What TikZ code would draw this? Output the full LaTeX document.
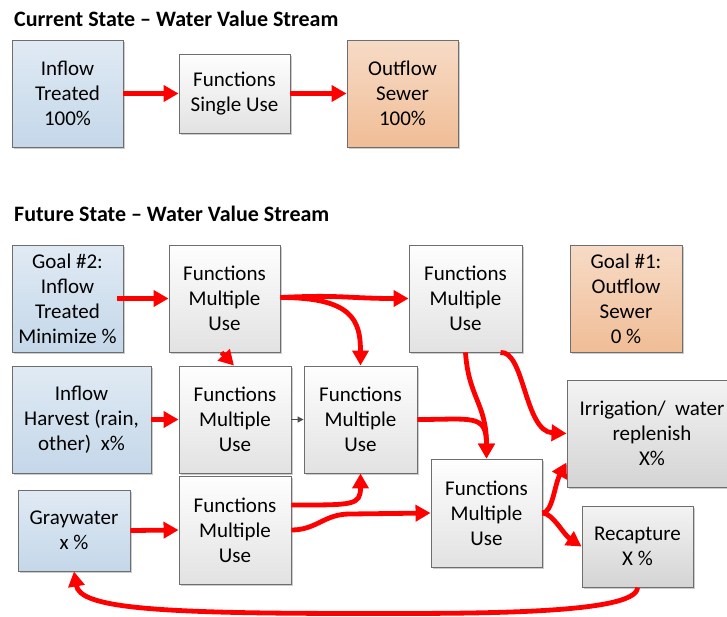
\documentclass[tikz,border=0pt]{standalone}
\usepackage{fontspec}
\setmainfont{Carlito}
\usetikzlibrary{arrows.meta,shadows,calc}
\definecolor{blueT}{RGB}{224,234,244}
\definecolor{blueB}{RGB}{196,215,233}
\definecolor{oraT}{RGB}{247,219,198}
\definecolor{oraB}{RGB}{240,189,150}
\definecolor{grT}{RGB}{254,254,254}
\definecolor{grB}{RGB}{226,226,226}
\definecolor{dgT}{RGB}{243,243,243}
\definecolor{dgB}{RGB}{212,212,212}
\definecolor{edgec}{RGB}{110,110,110}
\definecolor{myred}{RGB}{255,0,0}
\tikzset{
  box/.style={draw=edgec, line width=0.9pt, align=center, inner sep=0pt,
    font=\fontsize{21}{25}\selectfont,
    drop shadow={shadow xshift=2pt, shadow yshift=-2pt, fill=black!20, opacity=1}},
  bluebox/.style={box, top color=blueT, bottom color=blueB},
  orabox/.style={box, top color=oraT, bottom color=oraB},
  funcbox/.style={box, top color=grT, bottom color=grB},
  outbox/.style={box, top color=dgT, bottom color=dgB},
  flow/.style={draw=myred, line width=4.8pt, -{Triangle[length=15pt,width=16pt]}},
  thinflow/.style={draw=black!70, line width=1pt, -{Triangle[length=6pt,width=6pt]}},
  title/.style={anchor=west, inner sep=0pt, font=\fontsize{22}{26}\selectfont\bfseries}
}
\begin{document}
\begin{tikzpicture}[x=1pt,y=-1pt]
\useasboundingbox[fill=white] (0,0) rectangle (727,616);

% ---------- current state ----------
\node[title] (t1) at (14,19) {Current State – Water Value Stream};
\node[bluebox, minimum width=111pt, minimum height=107pt] (cin) at (67.5,93.5) {Inflow\\Treated\\100\%};
\node[funcbox, minimum width=111pt, minimum height=79pt] (cfun) at (234.5,93.5) {Functions\\Single Use};
\node[orabox, minimum width=111pt, minimum height=107pt] (cout) at (402.5,93.5) {Outflow\\Sewer\\100\%};
\draw[flow] (cin.east) -- (cfun.west);
\draw[flow] (cfun.east) -- (cout.west);

% ---------- future state ----------
\node[title] (t2) at (14,214) {Future State – Water Value Stream};
\node[bluebox, minimum width=111pt, minimum height=107pt] (goal2) at (67.5,298.5) {Goal \#2:\\Inflow\\Treated\\Minimize \%};
\node[funcbox, minimum width=111pt, minimum height=107pt] (f1) at (224.5,298.5) {Functions\\Multiple\\Use};
\node[funcbox, minimum width=113pt, minimum height=107pt] (f2) at (465.5,298.5) {Functions\\Multiple\\Use};
\node[orabox, minimum width=112pt, minimum height=107pt] (goal1) at (626,298.5) {Goal \#1:\\Outflow\\Sewer\\0 \%};

\node[bluebox, minimum width=139pt, minimum height=107pt] (harv) at (81.5,419.5) {Inflow\\Harvest (rain,\\other)\ \ x\%};
\node[funcbox, minimum width=112pt, minimum height=107pt] (f3) at (235,419.5) {Functions\\Multiple\\Use};
\node[funcbox, minimum width=113pt, minimum height=107pt] (f4) at (360.5,419.5) {Functions\\Multiple\\Use};
\node[outbox, minimum width=170pt, minimum height=107pt] (irr) at (652,433.5) {Irrigation/\ \ water\\replenish\\X\%};

\node[bluebox, minimum width=112pt, minimum height=81pt] (gray) at (74,530.5) {Graywater\\x \%};
\node[funcbox, minimum width=112pt, minimum height=108pt] (f5) at (235,530) {Functions\\Multiple\\Use};
\node[funcbox, minimum width=111pt, minimum height=108pt] (f6) at (486.5,513) {Functions\\Multiple\\Use};
\node[outbox, minimum width=111pt, minimum height=81pt] (recap) at (637.5,546.5) {Recapture\\X \%};

% connectors
\draw[flow] ($(goal2.east)+(-6,0)$) -- (f1.west);
\draw[flow] ($(f1.east)+(0,-1)$) .. controls +(60,-3) and +(-60,0) .. (f2.west);
\draw[flow] ($(f1.east)+(0,-1)$) .. controls +(72,0) and +(0,-45) .. (f4.north);
\draw[flow] ($(f1.south)+(-3,0)$) -- ($(f3.north)+(-1,0)$);
\draw[flow] (harv.east) -- (f3.west);
\draw[thinflow] (f3.east) -- (f4.west);
\draw[flow] (f4.east) .. controls +(55,0) and +(0,-45) .. (f6.north);
\draw[flow] (f2.south) .. controls +(3,45) and +(0,-55) .. (f6.north);
\draw[flow] ($(f2.south)+(35,0)$) .. controls +(24,-2) and +(-42,-2) .. (irr.west);
\draw[flow] ($(f5.east)+(0,-25)$) .. controls +(62,0) and +(0,32) .. (f4.south);
\draw[flow] (f5.east) .. controls +(25,0) and +(-25,0) .. ($(f5.east)+(58,-16)$) -- (f6.west);
\draw[flow] (gray.east) -- (f5.west);
\draw[flow] (f6.east) .. controls +(10,0) and +(-12,22) .. ($(irr.south west)+(0,-25)$);
\draw[flow] (f6.east) .. controls +(10,0) and +(-18,-12) .. (recap.west);
\draw[flow] (recap.south) .. controls +(0,28) and +(110,0) .. ($(recap.south)+(-287,26)$)
  .. controls +(-200,0) and +(6,36) .. (gray.south);
\end{tikzpicture}
\end{document}
